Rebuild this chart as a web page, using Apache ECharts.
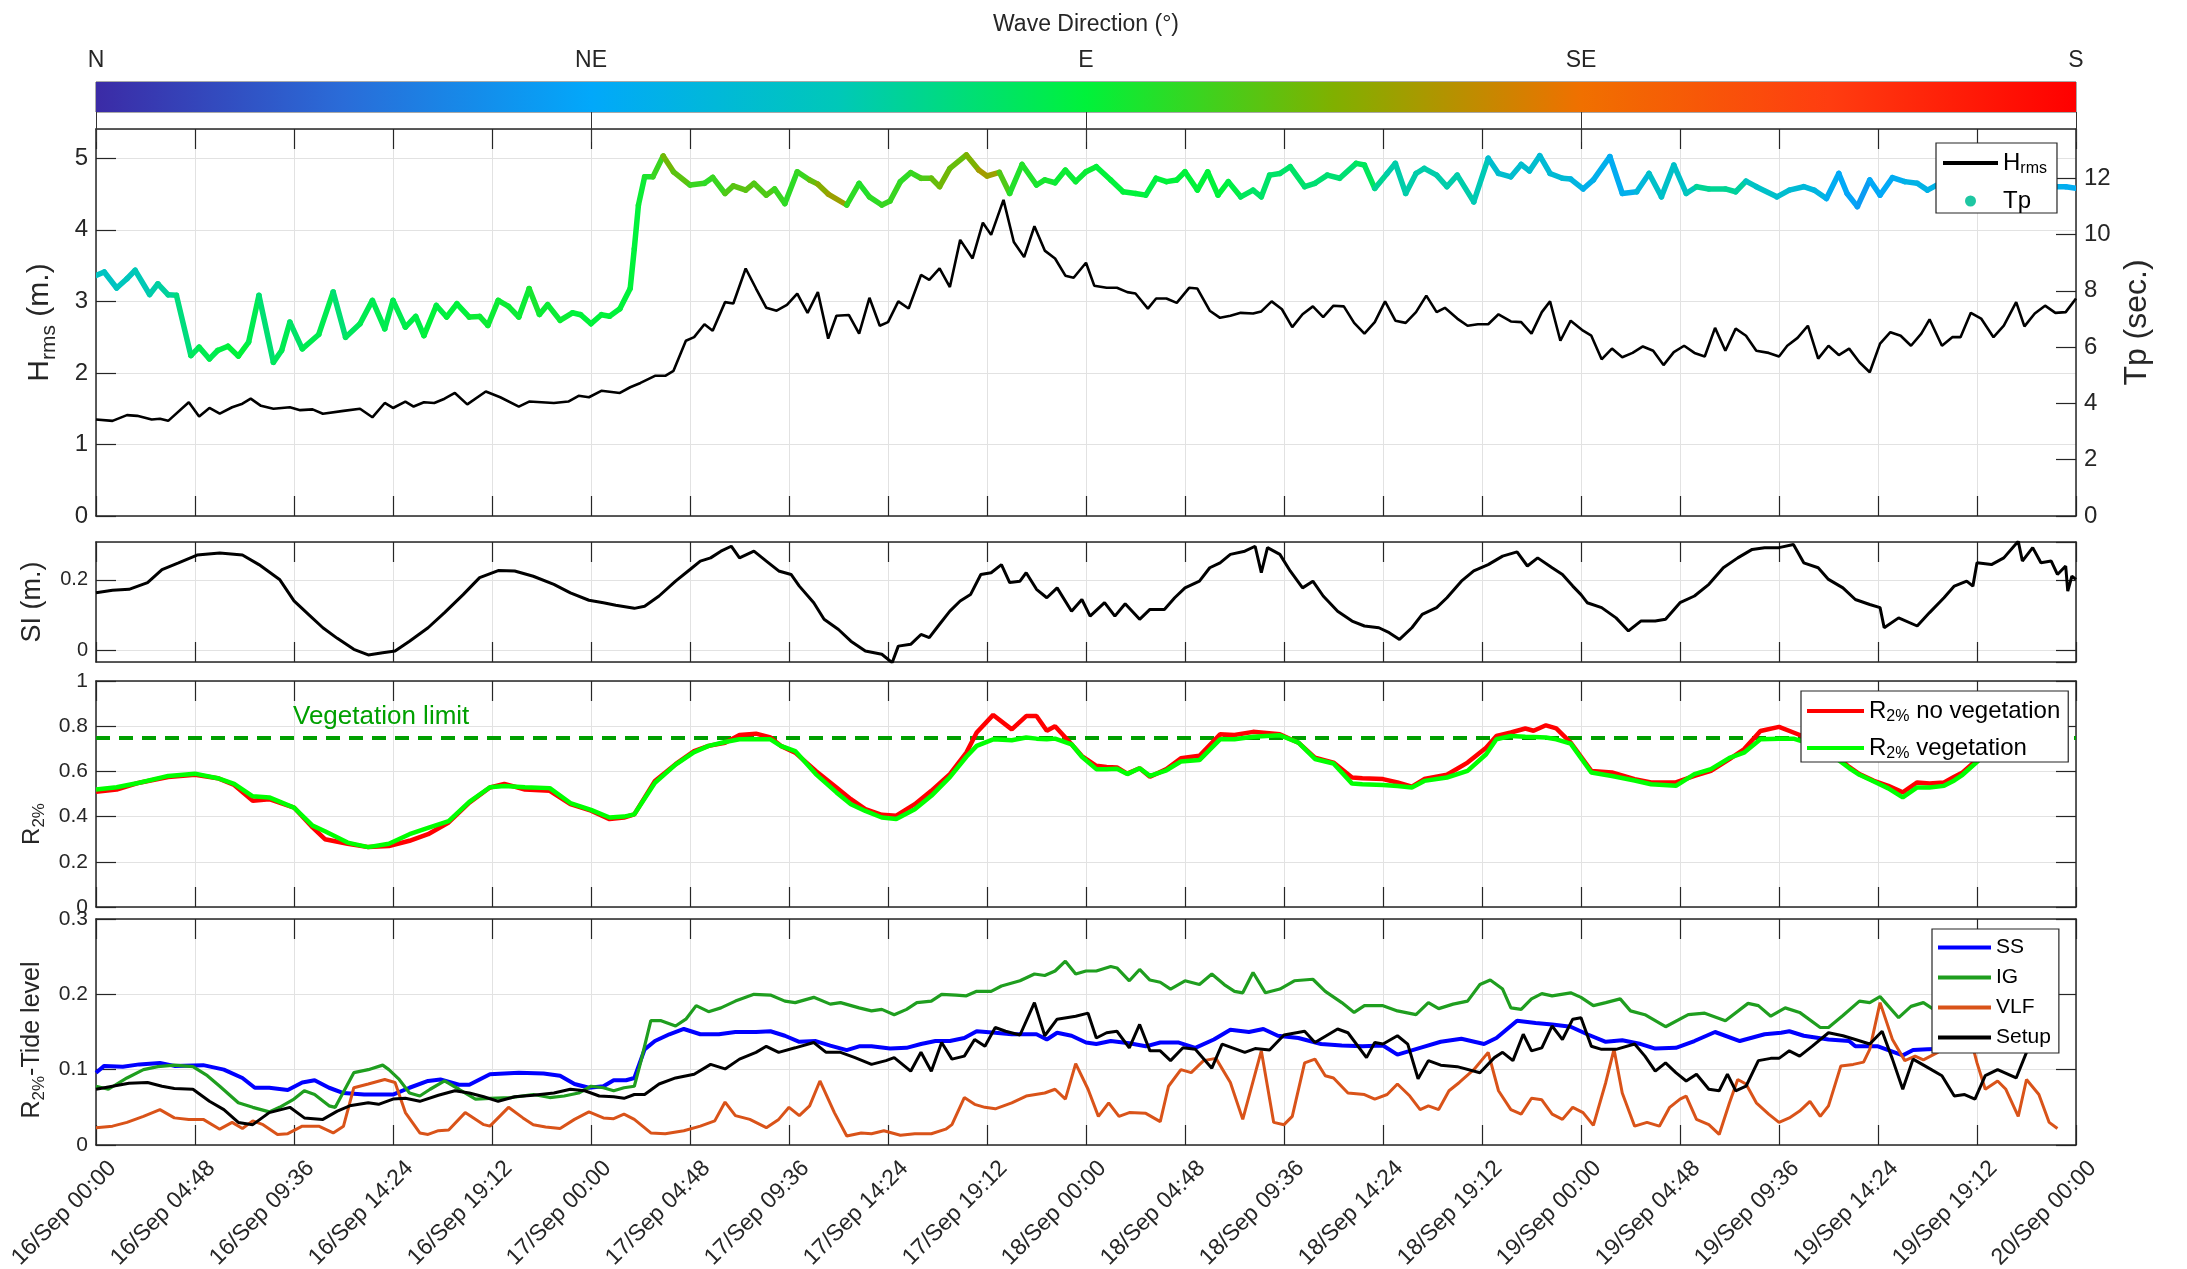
<!DOCTYPE html>
<html>
<head>
<meta charset="utf-8">
<title>Wave height, sea level and run-up, 16-20 Sep</title>
<script src="https://cdn.jsdelivr.net/npm/echarts@6/dist/echarts.min.js"></script>
<style>
  html, body { margin: 0; padding: 0; background: #fff; }
  #chart { width: 2187px; height: 1269px; }
</style>
</head>
<body>
<div id="chart"></div>
<script>
  // time axis: hours after 16/Sep 00:00
  const tStart = 0, tEnd = 96, tStep = 4.8;

  // wave direction colour scale (deg), stops every 22.5 deg
  const dirMin = 0, dirMax = 180, dirStep = 45;
  const dirNames = ['N', 'NE', 'E', 'SE', 'S'];
  const dirColors = ['#3b2ba6', '#2a6cd8', '#02a8fa', '#00c8b8', '#00f23a', '#80b000', '#f07000', '#ff3d10', '#ff0000'];

  // Hrms (m) [hour, value]
  const hrms = [[0.0,1.35],[0.8,1.33],[1.5,1.41],[2.0,1.40],[2.7,1.35],[3.1,1.36],[3.5,1.33],[4.5,1.59],[5.0,1.39],[5.5,1.51],[6.0,1.43],[6.6,1.52],[7.1,1.57],[7.5,1.64],[8.0,1.54],[8.6,1.50],[9.4,1.52],[9.9,1.48],[10.5,1.49],[11.0,1.43],[12.0,1.47],[12.8,1.50],[13.4,1.38],[14.0,1.58],[14.4,1.51],[15.0,1.60],[15.4,1.53],[15.9,1.59],[16.4,1.58],[16.9,1.64],[17.4,1.72],[18.0,1.56],[18.9,1.74],[19.6,1.66],[20.5,1.53],[21.0,1.60],[22.2,1.58],[22.9,1.60],[23.4,1.68],[23.9,1.66],[24.5,1.75],[25.4,1.72],[25.9,1.80],[26.4,1.86],[27.1,1.96],[27.6,1.96],[28.0,2.03],[28.6,2.45],[29.0,2.50],[29.5,2.68],[29.9,2.59],[30.5,2.99],[30.9,2.97],[31.5,3.46],[32.0,3.18],[32.5,2.91],[33.0,2.87],[33.5,2.95],[34.0,3.11],[34.5,2.84],[35.0,3.13],[35.5,2.48],[35.9,2.80],[36.5,2.81],[37.0,2.55],[37.5,3.05],[38.0,2.66],[38.4,2.71],[38.9,3.00],[39.4,2.90],[40.0,3.37],[40.4,3.30],[40.9,3.46],[41.4,3.20],[41.9,3.86],[42.5,3.60],[43.0,4.10],[43.4,3.93],[44.0,4.42],[44.5,3.83],[45.0,3.62],[45.5,4.05],[46.0,3.71],[46.5,3.60],[47.0,3.36],[47.4,3.33],[48.0,3.54],[48.4,3.22],[49.0,3.19],[49.5,3.19],[50.0,3.13],[50.4,3.11],[51.0,2.90],[51.4,3.04],[51.9,3.04],[52.4,2.98],[53.0,3.19],[53.4,3.18],[54.0,2.87],[54.5,2.77],[55.0,2.80],[55.5,2.84],[56.1,2.83],[56.5,2.86],[57.0,3.00],[57.5,2.89],[58.0,2.64],[58.5,2.82],[59.0,2.93],[59.5,2.78],[60.0,2.94],[60.5,2.93],[61.0,2.70],[61.5,2.55],[62.0,2.71],[62.5,3.00],[63.0,2.73],[63.5,2.70],[64.0,2.85],[64.5,3.08],[65.0,2.85],[65.4,2.91],[66.0,2.76],[66.5,2.66],[67.0,2.68],[67.5,2.68],[68.0,2.82],[68.6,2.72],[69.1,2.71],[69.6,2.55],[70.1,2.85],[70.5,3.00],[71.0,2.45],[71.5,2.73],[72.1,2.59],[72.5,2.52],[73.0,2.19],[73.5,2.34],[74.0,2.22],[74.5,2.28],[75.0,2.37],[75.5,2.31],[76.0,2.11],[76.5,2.29],[77.0,2.38],[77.5,2.28],[78.0,2.23],[78.5,2.63],[79.0,2.31],[79.5,2.62],[80.0,2.52],[80.5,2.31],[81.1,2.28],[81.6,2.23],[82.0,2.38],[82.5,2.49],[83.0,2.66],[83.5,2.20],[84.0,2.38],[84.5,2.25],[85.0,2.34],[85.5,2.15],[86.0,2.01],[86.5,2.41],[87.0,2.57],[87.5,2.52],[88.0,2.38],[88.5,2.55],[88.9,2.75],[89.5,2.38],[90.0,2.50],[90.4,2.50],[90.9,2.84],[91.4,2.76],[92.0,2.50],[92.5,2.66],[93.1,2.99],[93.5,2.65],[94.0,2.83],[94.5,2.94],[95.0,2.84],[95.5,2.85],[96.0,3.04]];

  // Tp (s) and wave direction (deg) [hour, Tp, dir]
  const tp = [[0.0,8.55,64],[0.4,8.67,64],[1.0,8.10,66],[1.5,8.43,66],[1.9,8.73,68],[2.6,7.87,70],[3.0,8.25,72],[3.5,7.86,74],[3.9,7.84,78],[4.6,5.70,84],[5.0,6.00,86],[5.5,5.58,86],[5.9,5.88,88],[6.4,6.03,90],[6.9,5.68,90],[7.4,6.18,86],[7.9,7.84,80],[8.6,5.46,84],[9.0,5.88,86],[9.4,6.89,82],[10.0,5.94,86],[10.8,6.45,86],[11.5,7.96,80],[12.1,6.35,84],[12.8,6.83,86],[13.4,7.66,86],[14.0,6.65,86],[14.4,7.66,86],[15.0,6.71,88],[15.5,7.09,88],[15.9,6.41,90],[16.5,7.48,88],[17.0,7.07,90],[17.5,7.54,90],[18.1,7.07,92],[18.6,7.09,92],[19.0,6.77,92],[19.5,7.66,92],[20.0,7.45,92],[20.5,7.07,92],[21.0,8.08,94],[21.5,7.16,92],[21.9,7.51,92],[22.5,6.95,92],[23.1,7.22,90],[23.5,7.15,90],[24.0,6.83,90],[24.5,7.15,90],[24.9,7.10,90],[25.4,7.36,90],[25.9,8.08,90],[26.1,9.50,90],[26.3,11.05,92],[26.6,12.05,95],[27.0,12.05,100],[27.5,12.79,110],[28.0,12.23,106],[28.8,11.76,100],[29.5,11.82,98],[29.9,12.03,100],[30.5,11.46,104],[30.9,11.73,106],[31.5,11.58,106],[31.9,11.82,104],[32.5,11.40,104],[32.9,11.62,100],[33.4,11.10,98],[34.0,12.23,100],[34.6,11.94,108],[35.0,11.79,114],[35.5,11.44,118],[36.4,11.05,98],[37.0,11.82,96],[37.5,11.34,98],[38.1,11.05,100],[38.5,11.19,100],[39.0,11.88,98],[39.5,12.20,100],[40.0,12.00,104],[40.5,12.00,108],[40.9,11.70,110],[41.4,12.35,108],[42.2,12.83,112],[42.8,12.29,120],[43.2,12.08,118],[43.8,12.21,104],[44.3,11.46,96],[44.9,12.49,96],[45.6,11.76,94],[46.0,11.94,94],[46.5,11.84,92],[47.0,12.29,92],[47.5,11.88,92],[48.0,12.23,92],[48.5,12.41,90],[49.2,11.94,90],[49.8,11.52,90],[50.4,11.46,90],[50.9,11.40,88],[51.4,12.00,90],[51.9,11.88,90],[52.4,11.94,90],[52.8,12.23,90],[53.4,11.58,90],[53.9,12.23,90],[54.4,11.40,90],[54.9,11.88,88],[55.5,11.34,84],[56.1,11.58,82],[56.5,11.34,82],[56.9,12.11,82],[57.4,12.17,82],[57.9,12.41,82],[58.6,11.70,80],[59.1,11.82,80],[59.7,12.11,80],[60.3,12.00,80],[61.1,12.53,84],[61.5,12.47,84],[62.0,11.64,74],[62.6,12.17,70],[63.0,12.53,70],[63.5,11.46,70],[64.0,12.17,70],[64.4,12.35,70],[65.0,12.11,70],[65.5,11.70,70],[66.0,12.11,70],[66.8,11.16,68],[67.5,12.71,60],[68.0,12.17,60],[68.6,12.05,60],[69.1,12.49,60],[69.5,12.26,60],[70.0,12.80,58],[70.5,12.17,58],[71.1,12.00,58],[71.5,11.97,54],[72.1,11.62,50],[72.6,11.94,50],[73.4,12.77,48],[74.0,11.46,50],[74.7,11.52,56],[75.3,12.17,62],[75.9,11.34,62],[76.5,12.47,62],[77.1,11.46,66],[77.6,11.70,74],[78.2,11.62,74],[79.0,11.62,74],[79.5,11.52,72],[80.0,11.90,64],[80.5,11.70,62],[81.5,11.34,60],[82.1,11.58,58],[82.8,11.70,56],[83.3,11.58,54],[83.9,11.28,48],[84.5,12.17,46],[84.9,11.46,44],[85.4,10.99,40],[86.0,11.94,46],[86.5,11.40,46],[87.1,12.02,48],[87.7,11.88,52],[88.3,11.82,52],[88.8,11.58,52],[89.6,11.90,52],[90.5,11.50,52],[91.5,12.00,52],[92.5,11.60,50],[93.5,11.90,50],[94.5,11.70,50],[95.5,11.70,48],[96.0,11.64,48]];

  // SI (m) [hour, value]
  const si = [[0.0,0.163],[0.8,0.170],[1.6,0.173],[2.5,0.192],[3.2,0.229],[4.0,0.248],[4.9,0.270],[6.0,0.276],[7.1,0.270],[7.9,0.243],[8.9,0.201],[9.6,0.140],[10.3,0.102],[11.0,0.064],[11.7,0.034],[12.5,0.003],[13.2,-0.013],[13.9,-0.007],[14.5,-0.002],[15.2,0.026],[16.1,0.064],[16.9,0.107],[17.8,0.158],[18.6,0.206],[19.5,0.226],[20.3,0.225],[21.2,0.210],[22.2,0.187],[23.0,0.163],[23.9,0.142],[24.6,0.135],[25.2,0.128],[26.1,0.119],[26.6,0.125],[27.3,0.154],[28.1,0.196],[28.8,0.229],[29.3,0.253],[29.8,0.262],[30.3,0.281],[30.8,0.295],[31.2,0.262],[31.9,0.281],[32.5,0.253],[33.1,0.225],[33.7,0.215],[34.1,0.182],[34.8,0.135],[35.3,0.088],[36.0,0.059],[36.6,0.026],[37.3,-0.002],[38.1,-0.011],[38.6,-0.035],[38.9,0.012],[39.5,0.017],[40.0,0.045],[40.4,0.036],[40.9,0.074],[41.4,0.111],[41.9,0.140],[42.4,0.158],[42.9,0.215],[43.4,0.220],[43.9,0.243],[44.3,0.192],[44.8,0.196],[45.1,0.220],[45.6,0.173],[46.1,0.149],[46.6,0.177],[47.3,0.111],[47.8,0.144],[48.2,0.097],[48.9,0.135],[49.4,0.097],[49.9,0.132],[50.6,0.088],[51.1,0.116],[51.8,0.116],[52.3,0.149],[52.8,0.177],[53.5,0.196],[54.0,0.234],[54.5,0.248],[55.0,0.272],[55.7,0.281],[56.2,0.295],[56.5,0.220],[56.8,0.291],[57.4,0.272],[57.9,0.225],[58.5,0.177],[59.0,0.196],[59.5,0.154],[60.2,0.111],[60.9,0.083],[61.5,0.069],[62.2,0.064],[62.7,0.050],[63.2,0.031],[63.8,0.064],[64.3,0.102],[65.0,0.121],[65.5,0.149],[66.2,0.196],[66.8,0.225],[67.5,0.243],[68.2,0.267],[68.9,0.279],[69.4,0.239],[69.9,0.262],[70.6,0.234],[71.1,0.215],[71.6,0.182],[72.0,0.158],[72.3,0.135],[73.0,0.121],[73.7,0.092],[74.3,0.055],[74.9,0.083],[75.6,0.083],[76.1,0.088],[76.8,0.135],[77.5,0.154],[78.2,0.187],[78.9,0.234],[79.6,0.262],[80.3,0.286],[80.9,0.291],[81.6,0.291],[82.3,0.300],[82.8,0.248],[83.5,0.234],[84.0,0.201],[84.7,0.177],[85.3,0.144],[86.0,0.130],[86.5,0.121],[86.7,0.064],[87.4,0.092],[88.3,0.069],[88.9,0.107],[89.6,0.149],[90.1,0.182],[90.7,0.196],[91.0,0.182],[91.2,0.248],[91.9,0.243],[92.5,0.262],[93.2,0.309],[93.4,0.253],[93.9,0.291],[94.3,0.248],[94.8,0.253],[95.1,0.215],[95.5,0.239],[95.6,0.168],[95.8,0.210],[96.0,0.201]];

  // R2% (m) [hour, value]
  const r2NoVeg = [[0.0,0.51],[1.0,0.52],[2.1,0.55],[3.5,0.575],[4.8,0.585],[5.9,0.57],[6.7,0.54],[7.6,0.47],[8.4,0.477],[9.6,0.44],[10.5,0.352],[11.1,0.30],[12.2,0.28],[13.2,0.265],[14.2,0.27],[15.2,0.293],[16.1,0.322],[17.1,0.374],[18.1,0.462],[19.1,0.529],[19.8,0.545],[20.8,0.52],[22.0,0.514],[23.0,0.455],[24.0,0.426],[24.9,0.389],[25.6,0.396],[26.1,0.41],[27.1,0.558],[28.1,0.632],[29.0,0.69],[29.7,0.713],[30.5,0.727],[31.2,0.761],[32.0,0.767],[32.7,0.75],[33.2,0.713],[33.9,0.683],[34.9,0.602],[35.9,0.529],[36.6,0.477],[37.3,0.433],[38.1,0.408],[38.8,0.404],[39.7,0.455],[40.5,0.514],[41.4,0.588],[42.2,0.683],[42.7,0.772],[43.5,0.85],[44.4,0.786],[45.1,0.845],[45.6,0.845],[46.1,0.78],[46.5,0.80],[47.3,0.72],[47.8,0.668],[48.5,0.625],[49.0,0.62],[49.5,0.617],[50.0,0.59],[50.6,0.614],[51.1,0.576],[51.9,0.61],[52.6,0.658],[53.5,0.669],[54.5,0.764],[55.2,0.761],[56.1,0.775],[57.4,0.764],[58.3,0.727],[59.1,0.661],[60.0,0.639],[60.9,0.573],[61.4,0.57],[62.4,0.566],[63.1,0.551],[63.8,0.532],[64.4,0.566],[65.5,0.585],[66.5,0.639],[67.4,0.705],[67.9,0.757],[68.6,0.772],[69.3,0.79],[69.7,0.78],[70.3,0.804],[70.8,0.79],[71.5,0.727],[72.5,0.602],[73.5,0.595],[74.6,0.566],[75.4,0.551],[76.6,0.551],[77.5,0.58],[78.3,0.602],[79.2,0.654],[79.9,0.698],[80.7,0.779],[81.6,0.797],[82.3,0.772],[83.2,0.74],[84.2,0.68],[85.0,0.62],[85.5,0.588],[86.2,0.558],[86.9,0.536],[87.6,0.507],[88.3,0.551],[88.9,0.546],[89.6,0.551],[90.1,0.576],[90.5,0.595],[91.3,0.66],[92.2,0.73],[93.0,0.77],[93.8,0.78],[94.6,0.76],[95.0,0.74]];
  const r2Veg = [[0.0,0.52],[1.0,0.53],[2.1,0.55],[3.5,0.58],[4.8,0.59],[5.9,0.57],[6.7,0.545],[7.6,0.49],[8.4,0.485],[9.6,0.44],[10.5,0.36],[11.1,0.335],[12.2,0.285],[13.2,0.265],[14.2,0.28],[15.2,0.322],[16.1,0.35],[17.1,0.38],[18.1,0.465],[19.1,0.53],[19.8,0.535],[20.8,0.53],[22.0,0.526],[23.0,0.46],[24.0,0.43],[24.9,0.396],[25.6,0.40],[26.1,0.41],[27.1,0.55],[28.1,0.63],[29.0,0.685],[29.7,0.713],[30.5,0.73],[31.2,0.742],[32.0,0.742],[32.7,0.742],[33.2,0.713],[33.9,0.69],[34.9,0.588],[35.9,0.507],[36.6,0.455],[37.3,0.425],[38.1,0.396],[38.8,0.389],[39.7,0.433],[40.5,0.492],[41.4,0.575],[42.2,0.665],[42.7,0.713],[43.5,0.742],[44.4,0.738],[45.1,0.75],[45.6,0.745],[46.1,0.742],[46.5,0.745],[47.3,0.72],[47.8,0.665],[48.5,0.61],[49.0,0.61],[49.5,0.612],[50.0,0.588],[50.6,0.614],[51.1,0.58],[51.9,0.605],[52.6,0.644],[53.5,0.65],[54.5,0.742],[55.2,0.742],[56.1,0.753],[57.4,0.76],[58.3,0.727],[59.1,0.655],[60.0,0.635],[60.9,0.546],[61.4,0.543],[62.4,0.54],[63.1,0.535],[63.8,0.529],[64.4,0.558],[65.5,0.573],[66.5,0.602],[67.4,0.676],[67.9,0.742],[68.6,0.757],[69.3,0.753],[69.7,0.752],[70.3,0.75],[70.8,0.742],[71.5,0.723],[72.5,0.595],[73.5,0.58],[74.6,0.56],[75.4,0.543],[76.6,0.536],[77.5,0.588],[78.3,0.61],[79.2,0.66],[79.9,0.683],[80.7,0.742],[81.6,0.745],[82.3,0.745],[83.2,0.72],[84.2,0.67],[85.0,0.615],[85.5,0.585],[86.2,0.555],[86.9,0.525],[87.6,0.485],[88.3,0.529],[88.9,0.529],[89.6,0.536],[90.1,0.56],[90.5,0.585],[91.3,0.65],[92.2,0.71],[93.0,0.74],[93.8,0.745],[94.6,0.74],[95.0,0.73]];
  const vegLimit = 0.75;

  // R2% - tide level components (m) [hour, value]
  const ss = [[0.0,0.096],[0.4,0.105],[1.3,0.104],[2.1,0.107],[3.1,0.109],[3.8,0.105],[5.2,0.106],[6.2,0.100],[7.1,0.089],[7.7,0.076],[8.4,0.076],[9.3,0.073],[10.0,0.083],[10.6,0.086],[11.3,0.076],[12.0,0.069],[13.0,0.067],[14.4,0.067],[15.2,0.076],[16.1,0.085],[16.7,0.087],[17.6,0.080],[18.1,0.080],[19.1,0.094],[20.5,0.096],[21.7,0.095],[22.5,0.092],[23.2,0.081],[23.9,0.076],[24.6,0.078],[25.1,0.086],[25.7,0.086],[26.1,0.089],[26.6,0.127],[27.1,0.138],[27.8,0.147],[28.5,0.154],[29.3,0.147],[30.2,0.147],[31.0,0.150],[32.0,0.150],[32.7,0.151],[33.4,0.145],[34.1,0.137],[34.9,0.138],[35.6,0.132],[36.4,0.126],[37.0,0.131],[37.6,0.131],[38.5,0.128],[39.3,0.129],[40.0,0.134],[40.7,0.138],[41.4,0.138],[42.1,0.142],[42.7,0.151],[43.6,0.149],[44.4,0.147],[45.6,0.147],[46.1,0.140],[46.6,0.149],[47.3,0.145],[48.0,0.136],[48.5,0.134],[49.2,0.138],[50.1,0.135],[50.9,0.131],[51.6,0.136],[52.5,0.136],[53.3,0.129],[54.2,0.140],[55.0,0.153],[55.9,0.150],[56.6,0.154],[57.3,0.145],[58.3,0.142],[59.4,0.134],[60.4,0.132],[61.4,0.131],[62.4,0.132],[63.1,0.120],[64.2,0.129],[65.2,0.137],[66.2,0.141],[67.3,0.134],[67.9,0.142],[68.9,0.165],[69.8,0.162],[70.6,0.160],[71.5,0.157],[72.3,0.147],[73.2,0.137],[74.0,0.139],[74.9,0.134],[75.6,0.128],[76.6,0.129],[77.5,0.138],[78.5,0.150],[79.7,0.138],[80.9,0.147],[81.7,0.149],[82.1,0.151],[82.8,0.145],[84.0,0.140],[85.0,0.138],[85.3,0.131],[86.4,0.131],[87.6,0.119],[88.1,0.126],[88.8,0.127],[90.0,0.128],[91.5,0.130],[92.5,0.127],[93.5,0.126],[94.5,0.128],[95.0,0.127]];
  const ig = [[0.0,0.078],[0.6,0.074],[1.5,0.089],[2.3,0.100],[3.0,0.104],[3.8,0.106],[4.7,0.104],[5.4,0.092],[6.0,0.078],[6.9,0.056],[7.6,0.050],[8.4,0.044],[8.9,0.050],[9.6,0.061],[10.1,0.072],[10.6,0.067],[11.3,0.052],[11.6,0.050],[12.5,0.096],[13.2,0.100],[13.9,0.106],[14.2,0.100],[14.7,0.087],[15.2,0.069],[15.7,0.065],[16.2,0.074],[16.9,0.085],[17.6,0.074],[18.4,0.061],[19.1,0.062],[20.1,0.063],[21.2,0.067],[22.0,0.063],[22.7,0.065],[23.4,0.069],[24.0,0.078],[24.6,0.076],[25.1,0.072],[25.6,0.076],[26.1,0.078],[26.4,0.109],[26.9,0.165],[27.4,0.165],[28.1,0.158],[28.6,0.167],[29.1,0.185],[29.7,0.177],[30.3,0.182],[31.0,0.191],[31.9,0.200],[32.7,0.199],[33.4,0.191],[33.9,0.189],[34.8,0.196],[35.6,0.187],[36.1,0.189],[37.0,0.182],[37.6,0.178],[38.1,0.180],[38.7,0.173],[39.3,0.180],[39.8,0.189],[40.5,0.191],[41.0,0.200],[41.7,0.199],[42.2,0.198],[42.7,0.204],[43.4,0.204],[43.9,0.211],[44.8,0.218],[45.5,0.227],[46.0,0.225],[46.5,0.231],[47.0,0.244],[47.5,0.227],[48.0,0.231],[48.5,0.231],[49.2,0.237],[49.5,0.235],[50.1,0.218],[50.6,0.233],[51.1,0.219],[51.6,0.216],[52.1,0.207],[52.8,0.218],[53.5,0.213],[54.1,0.227],[54.7,0.213],[55.2,0.204],[55.6,0.202],[56.1,0.229],[56.7,0.202],[57.4,0.207],[58.1,0.218],[59.0,0.220],[59.6,0.204],[60.4,0.189],[61.0,0.176],[61.5,0.185],[62.4,0.185],[63.1,0.178],[64.0,0.173],[64.6,0.189],[65.1,0.181],[65.8,0.187],[66.5,0.191],[67.1,0.213],[67.6,0.219],[68.2,0.207],[68.6,0.182],[69.1,0.180],[69.6,0.194],[70.1,0.201],[70.6,0.198],[71.5,0.202],[72.0,0.196],[72.6,0.185],[73.2,0.189],[73.9,0.194],[74.4,0.178],[75.1,0.173],[76.1,0.157],[77.2,0.173],[78.0,0.175],[79.0,0.165],[80.1,0.188],[80.6,0.185],[81.2,0.171],[81.9,0.182],[82.6,0.176],[83.6,0.156],[84.0,0.156],[84.7,0.172],[85.5,0.191],[86.0,0.189],[86.5,0.197],[87.4,0.169],[88.0,0.184],[88.6,0.189],[89.1,0.180],[90.0,0.186],[91.0,0.192],[92.0,0.184],[93.0,0.190],[94.0,0.186],[95.0,0.188]];
  const vlf = [[0.0,0.023],[0.8,0.025],[1.5,0.030],[2.3,0.038],[3.1,0.047],[3.8,0.036],[4.5,0.034],[5.2,0.034],[6.0,0.021],[6.6,0.030],[7.1,0.022],[7.6,0.032],[8.1,0.027],[8.8,0.014],[9.3,0.015],[10.0,0.025],[10.8,0.025],[11.5,0.016],[12.0,0.025],[12.5,0.076],[13.2,0.081],[14.0,0.087],[14.5,0.083],[15.0,0.043],[15.7,0.016],[16.1,0.014],[16.6,0.019],[17.1,0.020],[17.9,0.043],[18.8,0.027],[19.1,0.025],[20.0,0.050],[20.7,0.036],[21.2,0.027],[21.8,0.024],[22.5,0.022],[23.2,0.034],[23.9,0.044],[24.6,0.036],[25.1,0.035],[25.6,0.041],[26.1,0.034],[26.9,0.016],[27.6,0.015],[28.5,0.019],[29.3,0.025],[30.0,0.032],[30.5,0.057],[31.0,0.039],[31.7,0.034],[32.5,0.023],[33.1,0.034],[33.6,0.050],[34.1,0.039],[34.6,0.052],[35.1,0.085],[35.8,0.043],[36.4,0.012],[37.1,0.016],[37.6,0.015],[38.2,0.019],[39.0,0.013],[39.7,0.015],[40.5,0.015],[41.2,0.021],[41.5,0.027],[42.1,0.063],[42.6,0.054],[43.1,0.050],[43.6,0.048],[44.4,0.056],[45.1,0.065],[46.0,0.069],[46.5,0.074],[47.0,0.061],[47.5,0.108],[48.1,0.074],[48.6,0.038],[49.1,0.056],[49.6,0.038],[50.1,0.043],[50.9,0.042],[51.6,0.031],[52.0,0.078],[52.6,0.100],[53.1,0.096],[53.7,0.112],[54.3,0.115],[55.0,0.083],[55.6,0.034],[56.5,0.125],[57.1,0.030],[57.6,0.027],[58.0,0.038],[58.6,0.109],[59.1,0.114],[59.6,0.092],[60.0,0.089],[60.7,0.069],[61.5,0.067],[62.0,0.061],[62.6,0.067],[63.1,0.081],[63.7,0.065],[64.2,0.047],[64.6,0.052],[65.1,0.047],[65.6,0.072],[66.1,0.083],[66.8,0.100],[67.5,0.123],[68.0,0.072],[68.6,0.047],[69.1,0.041],[69.6,0.062],[70.1,0.060],[70.6,0.041],[71.1,0.034],[71.6,0.050],[72.1,0.043],[72.6,0.026],[73.2,0.083],[73.6,0.127],[74.0,0.069],[74.6,0.025],[75.2,0.030],[75.8,0.025],[76.3,0.050],[76.8,0.061],[77.1,0.065],[77.6,0.034],[78.2,0.027],[78.7,0.014],[79.2,0.056],[79.6,0.087],[80.0,0.081],[80.5,0.056],[81.1,0.041],[81.6,0.030],[82.1,0.036],[82.6,0.045],[83.1,0.058],[83.6,0.038],[84.0,0.052],[84.6,0.105],[85.2,0.107],[85.7,0.110],[86.0,0.127],[86.5,0.189],[87.1,0.140],[87.7,0.112],[88.2,0.118],[88.6,0.113],[89.3,0.123],[89.8,0.140],[90.5,0.165],[91.0,0.130],[91.2,0.109],[91.6,0.074],[92.2,0.085],[92.6,0.074],[93.2,0.038],[93.6,0.087],[94.2,0.067],[94.7,0.030],[95.1,0.022]];
  const setup = [[0.0,0.074],[0.8,0.078],[1.6,0.082],[2.5,0.083],[3.2,0.078],[3.8,0.075],[4.7,0.074],[5.5,0.058],[6.2,0.047],[6.9,0.030],[7.6,0.027],[8.4,0.043],[9.4,0.050],[10.1,0.036],[11.0,0.034],[11.7,0.045],[12.3,0.052],[13.2,0.056],[13.7,0.054],[14.4,0.061],[15.0,0.062],[15.7,0.058],[16.6,0.066],[17.4,0.072],[18.1,0.069],[18.8,0.064],[19.5,0.058],[20.3,0.064],[21.2,0.066],[22.2,0.069],[23.0,0.074],[23.7,0.072],[24.4,0.065],[25.1,0.064],[25.6,0.062],[26.1,0.067],[26.6,0.067],[27.3,0.081],[28.1,0.089],[29.0,0.094],[29.8,0.107],[30.5,0.101],[31.2,0.114],[32.0,0.123],[32.5,0.131],[33.1,0.123],[33.9,0.129],[34.8,0.136],[35.4,0.123],[36.1,0.123],[36.8,0.116],[37.6,0.107],[38.3,0.112],[38.7,0.116],[39.5,0.098],[40.0,0.123],[40.5,0.098],[41.0,0.136],[41.5,0.114],[42.1,0.118],[42.6,0.140],[43.1,0.131],[43.6,0.156],[44.1,0.151],[44.8,0.146],[45.5,0.189],[46.0,0.145],[46.6,0.167],[47.5,0.171],[48.1,0.175],[48.5,0.142],[49.0,0.149],[49.5,0.151],[50.1,0.129],[50.6,0.160],[51.1,0.125],[51.6,0.125],[52.1,0.112],[52.7,0.129],[53.3,0.127],[54.1,0.102],[54.6,0.134],[55.2,0.128],[55.7,0.123],[56.2,0.128],[56.9,0.126],[57.6,0.146],[58.6,0.151],[59.1,0.136],[60.2,0.154],[60.7,0.149],[61.6,0.116],[62.0,0.136],[62.4,0.134],[63.1,0.145],[63.6,0.134],[64.1,0.088],[64.6,0.112],[65.2,0.106],[66.0,0.104],[67.1,0.096],[67.8,0.116],[68.2,0.123],[68.7,0.112],[69.2,0.147],[69.6,0.125],[70.1,0.129],[70.6,0.158],[71.1,0.140],[71.6,0.167],[72.0,0.169],[72.5,0.131],[73.0,0.127],[73.7,0.127],[74.6,0.134],[75.1,0.118],[75.6,0.098],[76.1,0.109],[76.6,0.096],[77.1,0.085],[77.6,0.094],[78.2,0.074],[78.7,0.072],[79.1,0.094],[79.5,0.072],[80.0,0.078],[80.6,0.112],[81.2,0.115],[81.6,0.115],[82.1,0.125],[82.6,0.118],[83.2,0.131],[84.0,0.149],[84.7,0.145],[85.3,0.140],[86.0,0.134],[86.6,0.151],[87.1,0.114],[87.6,0.074],[88.1,0.114],[88.8,0.103],[89.5,0.092],[90.1,0.065],[90.6,0.067],[91.1,0.061],[91.6,0.092],[92.2,0.100],[93.1,0.089],[93.6,0.123],[94.2,0.150],[94.8,0.170]];

  // axis ranges
  const hrmsTop = 5.41, tpTop = 13.75;
  const siMin = -0.033, siMax = 0.307;

  const FONT = '"Liberation Sans", Arial, Helvetica, sans-serif';
  const INK = '#262626';
  const GRIDLINE = '#e2e2e2';
  const LINE_ICON = 'path://M0,0H55V4H0Z';

  const pad = n => (n < 10 ? '0' : '') + n;
  // hours -> "16/Sep 04:48"
  function timeLabel(v) {
    const mins = Math.round(v * 60);
    const day = 16 + Math.floor(mins / 1440);
    const m = mins % 1440;
    return day + '/Sep ' + pad(Math.floor(m / 60)) + ':' + pad(m % 60);
  }

  const legendText = {
    'Hrms': '{m|H}{s|rms}',
    'Tp': '{m|Tp}',
    'R2 no vegetation': '{m|R}{s|2%}{m| no vegetation}',
    'R2 vegetation': '{m|R}{s|2%}{m| vegetation}'
  };
  const subRich = (big, small, lh) => ({
    m: { fontSize: big, lineHeight: lh, color: '#000', fontFamily: FONT },
    s: { fontSize: small, lineHeight: small, verticalAlign: 'bottom', color: '#000', fontFamily: FONT }
  });

  var chartDom = document.getElementById('chart');
  var myChart = echarts.init(chartDom);

  // x axes (bottom with grid lines, top mirror with ticks only)
  function timeAxis(gridIndex, position, withLabels) {
    return {
      type: 'value', gridIndex: gridIndex, position: position,
      min: tStart, max: tEnd, interval: tStep,
      axisLine: { show: true, onZero: false, lineStyle: { color: INK, width: 1.5 } },
      axisTick: { show: true, inside: true, length: 20, lineStyle: { color: INK, width: 1.2 } },
      splitLine: { show: position === 'bottom', lineStyle: { color: GRIDLINE, width: 1 } },
      axisLabel: withLabels
        ? { show: true, rotate: 45, margin: 20, fontSize: 23, color: INK, fontFamily: FONT,
            verticalAlign: 'top', padding: [0, -12, 0, 0], formatter: timeLabel }
        : { show: false }
    };
  }

  // y axes
  function valueAxis(gridIndex, position, extra, labelSize) {
    return Object.assign({
      type: 'value', gridIndex: gridIndex, position: position,
      axisLine: { show: true, onZero: false, lineStyle: { color: INK, width: 1.5 } },
      axisTick: { show: true, inside: true, length: 20, lineStyle: { color: INK, width: 1.2 } },
      splitLine: { show: position === 'left', lineStyle: { color: GRIDLINE, width: 1 } },
      axisLabel: labelSize
        ? { show: true, fontSize: labelSize, color: INK, fontFamily: FONT, margin: 8, showMaxLabel: extra.showMax !== false, showMinLabel: extra.showMin !== false }
        : { show: false },
      nameLocation: 'middle', nameRotate: 90
    }, extra);
  }

  function renderColourBar(params, api) {
    const a = api.coord([dirMin, 1]);
    const b = api.coord([dirMax, 0]);
    return {
      type: 'rect',
      shape: { x: a[0], y: a[1], width: b[0] - a[0], height: b[1] - a[1] },
      style: {
        fill: new echarts.graphic.LinearGradient(0, 0, 1, 0,
          dirColors.map((c, k) => ({ offset: k / (dirColors.length - 1), color: c })))
      }
    };
  }

  // Tp drawn as short segments so each piece takes its direction colour
  function renderTp(params, api) {
    const next = tp[params.dataIndex + 1];
    if (!next) return;
    const p0 = api.coord([api.value(0), api.value(1)]);
    const p1 = api.coord([next[0], next[1]]);
    return {
      type: 'line',
      shape: { x1: p0[0], y1: p0[1], x2: p1[0], y2: p1[1] },
      style: { stroke: api.visual('color'), lineWidth: 5.5, lineCap: 'round' }
    };
  }

  var option = {
    animation: false,
    backgroundColor: '#fff',
    textStyle: { fontFamily: FONT },
    grid: [
      { left: 96, right: 111, top: 82, height: 30, show: true, borderColor: '#555', borderWidth: 1, backgroundColor: 'transparent', outerBoundsMode: 'none' },
      { left: 96, right: 111, top: 129, height: 387, outerBoundsMode: 'none' },
      { left: 96, right: 111, top: 542, height: 120, outerBoundsMode: 'none' },
      { left: 96, right: 111, top: 681, height: 226, outerBoundsMode: 'none' },
      { left: 96, right: 111, top: 919, height: 226, outerBoundsMode: 'none' }
    ],
    xAxis: [
      {
        type: 'value', gridIndex: 0, position: 'top', min: dirMin, max: dirMax, interval: dirStep, z: 5,
        axisLine: { show: false },
        axisTick: { show: true, inside: true, length: 30, lineStyle: { color: '#333', width: 1 } },
        splitLine: { show: false },
        axisLabel: { fontSize: 23, color: INK, fontFamily: FONT, margin: 10, formatter: v => dirNames[Math.round(v / dirStep)] },
        name: 'Wave Direction (°)', nameLocation: 'middle', nameGap: 46,
        nameTextStyle: { fontSize: 23, color: INK, fontFamily: FONT }
      },
      timeAxis(1, 'bottom', false), timeAxis(1, 'top', false),
      timeAxis(2, 'bottom', false), timeAxis(2, 'top', false),
      timeAxis(3, 'bottom', false), timeAxis(3, 'top', false),
      timeAxis(4, 'bottom', true), timeAxis(4, 'top', false)
    ],
    yAxis: [
      { type: 'value', gridIndex: 0, min: 0, max: 1, show: false },
      valueAxis(1, 'left', {
        min: 0, max: hrmsTop, interval: 1, showMax: false,
        name: '{a|H}{b|rms}{a| (m.)}', nameGap: 36,
        nameTextStyle: { rich: {
          a: { fontSize: 30, lineHeight: 40, color: INK, fontFamily: FONT },
          b: { fontSize: 21, lineHeight: 21, verticalAlign: 'bottom', color: INK, fontFamily: FONT }
        } }
      }, 24),
      valueAxis(1, 'right', {
        min: 0, max: tpTop, interval: 2, showMax: false,
        name: 'Tp (sec.)', nameGap: 44,
        nameTextStyle: { fontSize: 32, color: INK, fontFamily: FONT }
      }, 24),
      valueAxis(2, 'left', {
        min: siMin, max: siMax, minInterval: 0.2, maxInterval: 0.2, splitNumber: 2, showMax: false, showMin: false,
        name: 'SI (m.)', nameGap: 50,
        nameTextStyle: { fontSize: 27, color: INK, fontFamily: FONT }
      }, 20),
      valueAxis(2, 'right', { min: siMin, max: siMax, minInterval: 0.2, maxInterval: 0.2, splitNumber: 2 }, 0),
      valueAxis(3, 'left', {
        min: 0, max: 1, interval: 0.2,
        name: '{a|R}{b|2%}', nameGap: 46,
        nameTextStyle: { padding: [0, 60, 0, 0], rich: {
          a: { fontSize: 24, lineHeight: 32, color: INK, fontFamily: FONT },
          b: { fontSize: 17, lineHeight: 17, verticalAlign: 'bottom', color: INK, fontFamily: FONT }
        } }
      }, 21),
      valueAxis(3, 'right', { min: 0, max: 1, interval: 0.2 }, 0),
      valueAxis(4, 'left', {
        min: 0, max: 0.3, interval: 0.1,
        name: '{a|R}{b|2%}{a|-Tide level}', nameGap: 46,
        nameTextStyle: { padding: [0, 16, 0, 0], rich: {
          a: { fontSize: 25, lineHeight: 32, color: INK, fontFamily: FONT },
          b: { fontSize: 17, lineHeight: 17, verticalAlign: 'bottom', color: INK, fontFamily: FONT }
        } }
      }, 21),
      valueAxis(4, 'right', { min: 0, max: 0.3, interval: 0.1 }, 0)
    ],
    visualMap: {
      type: 'continuous', show: false, seriesIndex: 2, dimension: 2,
      min: dirMin, max: dirMax, inRange: { color: dirColors }
    },
    legend: [
      {
        data: [{ name: 'Hrms', icon: LINE_ICON }, { name: 'Tp', icon: 'circle', itemStyle: { color: '#1ec6a2' } }],
        orient: 'vertical', left: 1936, top: 143,
        itemWidth: 55, itemHeight: 11, itemGap: 12,
        padding: [8, 10, 0, 7],
        backgroundColor: '#fff', borderColor: INK, borderWidth: 1.2,
        formatter: name => legendText[name] || name,
        textStyle: { rich: subRich(24, 16, 28) }
      },
      {
        data: ['R2 no vegetation', 'R2 vegetation'],
        orient: 'vertical', left: 1801, top: 691, icon: LINE_ICON,
        itemWidth: 57, itemHeight: 11, itemGap: 11,
        padding: [8, 8, 0, 6],
        backgroundColor: '#fff', borderColor: INK, borderWidth: 1.2,
        formatter: name => legendText[name] || name,
        textStyle: { rich: subRich(24, 16, 28) }
      },
      {
        data: ['SS', 'IG', 'VLF', 'Setup'],
        orient: 'vertical', left: 1932, top: 929, icon: LINE_ICON,
        itemWidth: 53, itemHeight: 11, itemGap: 7,
        padding: [7, 8, 4, 6],
        backgroundColor: '#fff', borderColor: INK, borderWidth: 1.2,
        textStyle: { fontSize: 21, lineHeight: 23, color: '#000', fontFamily: FONT }
      }
    ],
    series: [
      {
        type: 'custom', name: 'colourbar', xAxisIndex: 0, yAxisIndex: 0, silent: true, z: 1,
        data: [[dirMin, 0]], renderItem: renderColourBar
      },
      {
        type: 'line', name: 'Hrms', xAxisIndex: 1, yAxisIndex: 1, data: hrms, symbol: 'none', z: 3,
        lineStyle: { color: '#000', width: 2.6 }, itemStyle: { color: '#000' }
      },
      {
        type: 'custom', name: 'Tp', xAxisIndex: 1, yAxisIndex: 2, data: tp, encode: { x: 0, y: 1 },
        renderItem: renderTp, clip: true, z: 2
      },
      {
        type: 'line', name: 'SI', xAxisIndex: 3, yAxisIndex: 3, data: si, symbol: 'none',
        lineStyle: { color: '#000', width: 3 }, itemStyle: { color: '#000' }
      },
      {
        type: 'line', name: 'R2 no vegetation', xAxisIndex: 5, yAxisIndex: 5, data: r2NoVeg, symbol: 'none',
        lineStyle: { color: '#ff0000', width: 4.5 }, itemStyle: { color: '#ff0000' }
      },
      {
        type: 'line', name: 'R2 vegetation', xAxisIndex: 5, yAxisIndex: 5, data: r2Veg, symbol: 'none',
        lineStyle: { color: '#00ff00', width: 4.5 }, itemStyle: { color: '#00ff00' },
        markLine: {
          silent: true, symbol: 'none', z: 2,
          lineStyle: { color: '#00a000', width: 4, type: [14, 9] },
          label: {
            show: true, position: 'insideStartTop', formatter: 'Vegetation limit',
            color: '#00a000', fontSize: 26, fontFamily: FONT, padding: [0, 0, 3, 192]
          },
          data: [{ yAxis: vegLimit }]
        }
      },
      {
        type: 'line', name: 'SS', xAxisIndex: 7, yAxisIndex: 7, data: ss, symbol: 'none',
        lineStyle: { color: '#0000ff', width: 4 }, itemStyle: { color: '#0000ff' }
      },
      {
        type: 'line', name: 'IG', xAxisIndex: 7, yAxisIndex: 7, data: ig, symbol: 'none',
        lineStyle: { color: '#1f9e1f', width: 3.2 }, itemStyle: { color: '#1f9e1f' }
      },
      {
        type: 'line', name: 'VLF', xAxisIndex: 7, yAxisIndex: 7, data: vlf, symbol: 'none',
        lineStyle: { color: '#d95319', width: 3 }, itemStyle: { color: '#d95319' }
      },
      {
        type: 'line', name: 'Setup', xAxisIndex: 7, yAxisIndex: 7, data: setup, symbol: 'none',
        lineStyle: { color: '#000', width: 3 }, itemStyle: { color: '#000' }
      }
    ]
  };
  option && myChart.setOption(option);
</script>
</body>
</html>
